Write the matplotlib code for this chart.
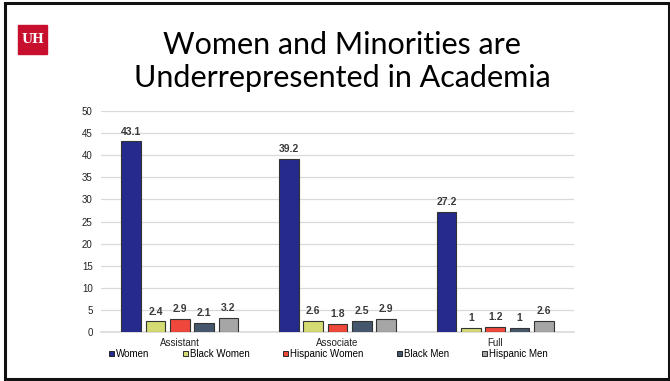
import numpy as np
import matplotlib.pyplot as plt
from matplotlib.patches import Rectangle

# data
ranks = ['Assistant', 'Associate', 'Full']
groups = ['Women', 'Black Women', 'Hispanic Women', 'Black Men', 'Hispanic Men']
women = [43.1, 39.2, 27.2]
black_women = [2.4, 2.6, 1]
hispanic_women = [2.9, 1.8, 1.2]
black_men = [2.1, 2.5, 1]
hispanic_men = [3.2, 2.9, 2.6]
colors = ['#252A8C', '#D5DB73', '#EF473B', '#45566D', '#A6A6A6']

series = [women, black_women, hispanic_women, black_men, hispanic_men]

fig = plt.figure(figsize=(6.7, 3.81), dpi=100)

# slide frame
fig.add_artist(Rectangle((4.5 / 670, 2.5 / 381), 664 / 670, 376 / 381,
                         transform=fig.transFigure, fill=False,
                         edgecolor='#111111', linewidth=2.2))

# logo
fig.add_artist(Rectangle((18 / 670, 1 - 54 / 381), 29 / 670, 29 / 381,
                         transform=fig.transFigure, color='#C8102E'))
fig.text(32.5 / 670, 1 - 39.5 / 381, 'UH', color='white', fontsize=9,
         fontweight='bold', family='DejaVu Serif', ha='center', va='center')

# title
fig.text(342 / 670, 1 - 45 / 381, 'Women and Minorities are', fontsize=22,
         family='Lato', ha='center', va='center')
fig.text(342 / 670, 1 - 78 / 381, 'Underrepresented in Academia', fontsize=22,
         family='Lato', ha='center', va='center')

ax = fig.add_axes([101 / 670, 1 - 332 / 381, 473 / 670, 221 / 381])

x = np.arange(len(ranks))
w = 0.124
step = 0.154
for i, (vals, c, lab) in enumerate(zip(series, colors, groups)):
    pos = x + (i - 2) * step
    bars = ax.bar(pos, vals, w, color=c, edgecolor='#333333', linewidth=0.8,
                  label=lab, zorder=3)
    for b, v in zip(bars, vals):
        ax.text(b.get_x() + b.get_width() / 2, v + 1.1, f'{v:g}', ha='center',
                va='bottom', fontsize=7.5, fontweight='bold', color='#3a3a3a',
                family='Liberation Sans')

ax.set_xlim(-0.5, 2.5)
ax.set_ylim(0, 50)
ax.set_yticks(range(0, 51, 5))
ax.set_xticks(x)
ax.set_xticklabels(ranks, fontsize=7, family='Liberation Sans', color='#222222')
ax.tick_params(axis='y', labelsize=7, length=0, pad=6, labelcolor='#222222')
ax.tick_params(axis='x', length=0, pad=4)
for lbl in ax.get_yticklabels():
    lbl.set_family('Liberation Sans')
ax.grid(axis='y', color='#d9d9d9', linewidth=0.9, zorder=0)
for s in ['top', 'right', 'left']:
    ax.spines[s].set_visible(False)
ax.spines['bottom'].set_color('#d9d9d9')
ax.spines['bottom'].set_linewidth(1.2)

leg = ax.legend(loc='center left', bbox_to_anchor=(0.017, -0.0995), ncol=5,
                frameon=False, handlelength=0.55, handleheight=0.55,
                handletextpad=0.2, columnspacing=3.4, borderaxespad=0,
                borderpad=0, prop={'family': 'Liberation Sans', 'size': 7})
for h in leg.legend_handles:
    h.set_edgecolor('#111111')
    h.set_linewidth(0.6)

fig.savefig('out.png', dpi=100)
